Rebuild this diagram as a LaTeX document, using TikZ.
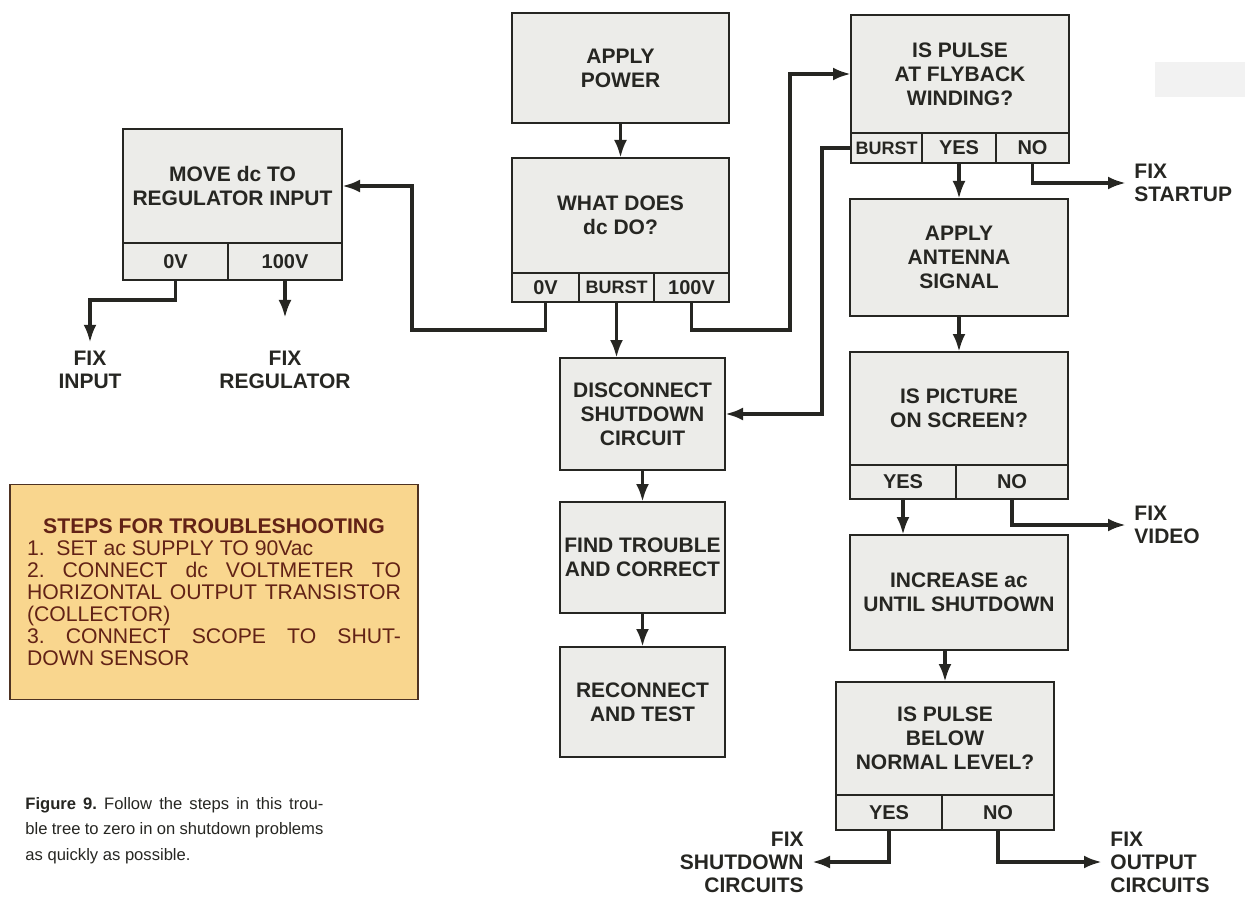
\documentclass[tikz,border=0pt]{standalone}
\usepackage{fontspec}
\setmainfont{Liberation Sans}
\usetikzlibrary{arrows.meta,positioning}
\setlength{\parindent}{0pt}
\frenchspacing

\definecolor{boxgray}{RGB}{236,236,233}
\definecolor{inkgray}{RGB}{38,38,34}
\definecolor{stepsfill}{RGB}{249,214,142}
\definecolor{stepsink}{RGB}{98,34,22}
\definecolor{stepsline}{RGB}{78,50,34}

\tikzset{
  tbox/.style={draw=inkgray, fill=boxgray, line width=0.6pt, inner sep=0pt,
               outer sep=0pt, align=center, text=inkgray,
               font=\fontsize{10.5}{12}\selectfont\bfseries},
  cell/.style={tbox, font=\fontsize{10}{12}\selectfont\bfseries},
  fix/.style={inner sep=4pt, text=inkgray,
              font=\fontsize{10.5}{11.5}\selectfont\bfseries},
  link/.style={line width=1.8pt, draw=inkgray}
}

\begin{document}
\begin{tikzpicture}[x=0.5pt, y=-0.5pt, ->, >={Latex[length=9pt,width=6.5pt]},
                    node distance=17pt]
	\useasboundingbox (0,0) rectangle (1245,898);
	\fill[black!5] (1155,62) rectangle (1245,97);

	% middle column
	\node[tbox, minimum width=108.5pt, minimum height=55pt] (power) at (620.5,68) {APPLY\\POWER};
	\node[tbox, minimum width=108.5pt, minimum height=57.5pt, below=17.5pt of power] (what) {WHAT DOES\\dc DO?};
	\node[cell, minimum width=33.5pt, minimum height=14.5pt, below right=0pt of what.south west] (what0V) {0V};
	\node[cell, minimum width=37.5pt, minimum height=14.5pt, right=0pt of what0V,
	      font=\fontsize{9}{12}\selectfont\bfseries] (whatB) {BURST};
	\node[cell, minimum width=37.5pt, minimum height=14.5pt, right=0pt of whatB] (what100V) {100V};

	\node[tbox, minimum width=82.5pt, minimum height=56pt] (disc) at (642.5,414) {DISCONNECT\\SHUTDOWN\\CIRCUIT};
	\node[tbox, minimum width=82.5pt, minimum height=55.5pt, below=16pt of disc] (find) {FIND TROUBLE\\AND CORRECT};
	\node[tbox, minimum width=82.5pt, minimum height=55pt, below=of find] (recon) {RECONNECT\\AND TEST};

	% left column
	\node[tbox, minimum width=109.5pt, minimum height=57pt] (move) at (232.5,186) {MOVE dc TO\\REGULATOR INPUT};
	\node[cell, minimum width=52.5pt, minimum height=18.5pt, below right=0pt of move.south west] (move0V) {0V};
	\node[cell, minimum width=57pt, minimum height=18.5pt, right=0pt of move0V] (move100V) {100V};

	\node[fix, align=center] (fixin) at (90,370) {FIX\\INPUT};
	\node[fix, align=center] (fixreg) at (285,370) {FIX\\REGULATOR};

	% right column
	\node[tbox, minimum width=109pt, minimum height=59pt] (fly) at (960,74) {IS PULSE\\AT FLYBACK\\WINDING?};
	\node[cell, minimum width=35.5pt, minimum height=15pt, below right=0pt of fly.south west,
	      font=\fontsize{9}{12}\selectfont\bfseries] (flyB) {BURST};
	\node[cell, minimum width=37pt, minimum height=15pt, right=0pt of flyB] (flyY) {YES};
	\node[cell, minimum width=36.5pt, minimum height=15pt, right=0pt of flyY] (flyN) {NO};

	\node[tbox, minimum width=109pt, minimum height=58.5pt, below=18pt of flyY] (ant) {APPLY\\ANTENNA\\SIGNAL};
	\node[tbox, minimum width=109pt, minimum height=56.5pt, below=18pt of ant] (pic) {IS PICTURE\\ON SCREEN?};
	\node[cell, minimum width=53pt, minimum height=17pt, below right=0pt of pic.south west] (picY) {YES};
	\node[cell, minimum width=56pt, minimum height=17pt, right=0pt of picY] (picN) {NO};

	\node[tbox, minimum width=109pt, minimum height=57.5pt, below=35pt of pic] (inc) {INCREASE ac\\UNTIL SHUTDOWN};
	\node[tbox, minimum width=109pt, minimum height=56.5pt, below=16pt of inc, xshift=-7pt] (bel) {IS PULSE\\BELOW\\NORMAL LEVEL?};
	\node[cell, minimum width=53pt, minimum height=17.5pt, below right=0pt of bel.south west] (belY) {YES};
	\node[cell, minimum width=56pt, minimum height=17.5pt, right=0pt of belY] (belN) {NO};

	\node[fix, anchor=west, align=left] (fixstart) at (1126,183) {FIX\\STARTUP};
	\node[fix, anchor=west, align=left] (fixvid) at (1126,525) {FIX\\VIDEO};
	\node[fix, anchor=east, align=right] (fixshut) at (812,862) {FIX\\SHUTDOWN\\CIRCUITS};
	\node[fix, anchor=west, align=left] (fixout) at (1102,862) {FIX\\OUTPUT\\CIRCUITS};

	% steps and caption
	\node[draw=stepsline, fill=stepsfill, line width=0.9pt, text=stepsink,
	      minimum width=204pt, minimum height=107.5pt, text width=187pt, align=justify,
	      font=\fontsize{10.6}{11}\selectfont] (steps) at (214,592)
	  {{\centering\bfseries STEPS FOR TROUBLESHOOTING\par}
	   1.\ \ SET ac SUPPLY TO 90Vac\par
	   2. CONNECT dc VOLTMETER TO\linebreak HORIZONTAL OUTPUT TRANSISTOR\linebreak (COLLECTOR)\par
	   3. CONNECT SCOPE TO SHUT-\linebreak DOWN SENSOR};

	\node[anchor=north west, inner sep=0pt, text width=149pt, align=justify, text=inkgray,
	      font=\fontsize{8.3}{12.75}\selectfont] (caption) at (25,797)
	  {\textbf{Figure 9.} Follow the steps in this trou-\linebreak ble tree to zero in on shutdown problems\linebreak as quickly as possible.};

	% connectors
	\coordinate (bendL) at (412,330);
	\coordinate (bendR) at (790,330);
	\coordinate (bendB) at (822,0);
	\coordinate (bendI) at (90,300);
	\coordinate (regtip) at (285,318);

	\draw[link] (power) -- (what);
	\draw[link] (what0V.south) |- (bendL) |- (move.east);
	\draw[link] (what100V.south) |- (bendR) |- (fly.west);
	\draw[link] (whatB.south) -- (whatB.south |- disc.north);
	\draw[link] (flyB.west) -| (bendB |- disc.east) -- (disc.east);
	\draw[link] (disc) -- (find);
	\draw[link] (find) -- (recon);
	\draw[link] (move0V.south) |- (bendI) -- (bendI |- fixin.north);
	\draw[link] (move100V.south) -- (regtip);
	\draw[link] (flyY) -- (ant);
	\draw[link] (flyN.south) |- (fixstart.west);
	\draw[link] (ant) -- (pic);
	\draw[link] (picY.south) -- (picY.south |- inc.north);
	\draw[link] (picN.south) |- (fixvid.west);
	\draw[link] (bel.north |- inc.south) -- (bel.north);
	\draw[link] (belY.south) |- (fixshut.east);
	\draw[link] (belN.south) |- (fixout.west);
\end{tikzpicture}
\end{document}
